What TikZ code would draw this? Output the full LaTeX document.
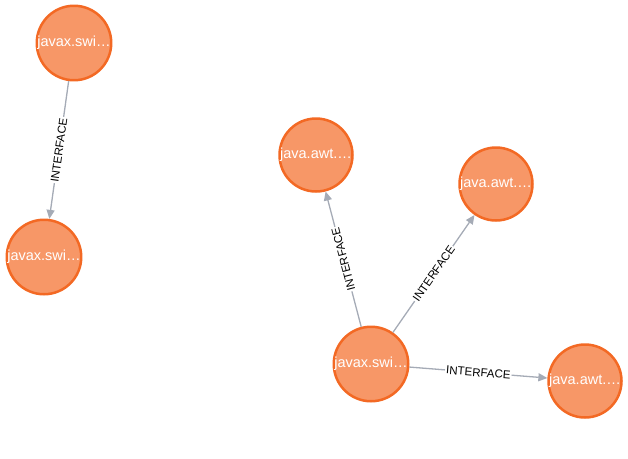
\documentclass[tikz,border=0pt]{standalone}
\usepackage{fontspec}
\setmainfont{Liberation Sans}
\usetikzlibrary{arrows.meta}
\definecolor{nfill}{HTML}{F79767}
\definecolor{nborder}{HTML}{F36924}
\definecolor{edgec}{HTML}{A5ABB6}
\tikzset{
  gnode/.style={circle, fill=nfill, draw=nborder, line width=2.5pt, minimum size=73pt, inner sep=0pt, text=white, font=\fontsize{14.5}{16}\selectfont},
  rel/.style={draw=edgec, line width=1.3pt, -{Triangle[length=9pt,width=8pt]}},
  rlab/.style={sloped, fill=white, inner sep=1pt, text=black, font=\fontsize{11.5}{13}\selectfont, midway}
}
\begin{document}
\begin{tikzpicture}[x=1pt,y=-1pt]
\useasboundingbox (0,0) rectangle (628,458);
\node[gnode] (a) at (74,43) {javax.swi…};
\node[gnode] (b) at (44,257) {javax.swi…};
\node[gnode] (c) at (316,155) {java.awt.…};
\node[gnode] (d) at (496,184) {java.awt.…};
\node[gnode] (e) at (371,364) {javax.swi…};
\node[gnode] (f) at (585,381) {java.awt.…};
\draw[rel] (a) -- node[rlab] {INTERFACE} (b);
\draw[rel] (e) -- node[rlab, allow upside down] {INTERFACE} (c);
\draw[rel] (e) -- node[rlab] {INTERFACE} (d);
\draw[rel] (e) -- node[rlab] {INTERFACE} (f);
\end{tikzpicture}
\end{document}
